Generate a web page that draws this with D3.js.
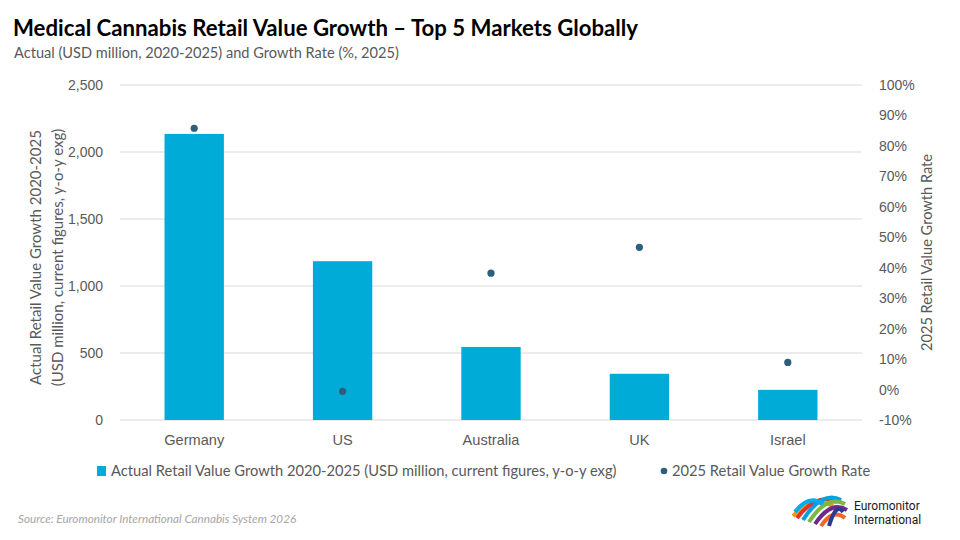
<!DOCTYPE html>
<html><head><meta charset="utf-8">
<script src="https://cdn.jsdelivr.net/npm/d3@7/dist/d3.min.js"></script>
<style>
body{margin:0;background:#fff;}
svg{display:block;font-family:Lato,"Open Sans",sans-serif;}
</style></head>
<body>
<svg id="chart" width="960" height="540"></svg>
<script>
const categories = ["Germany","US","Australia","UK","Israel"];
const actualValues = [2135, 1185, 545, 345, 225];
const growthRates = [85.8, -0.6, 38.2, 46.7, 8.9];
const leftTicks = [0, 500, 1000, 1500, 2000, 2500];
const rightTicks = [-10, 0, 10, 20, 30, 40, 50, 60, 70, 80, 90, 100];

const svg = d3.select("#chart");
const W = 960, H = 540;
const m = {left:120, right:98, top:85, bottom:120};
const x = d3.scaleBand().domain(categories).range([m.left, W - m.right]).paddingInner(0.6).paddingOuter(0.3);
const yL = d3.scaleLinear().domain([0, 2500]).range([H - m.bottom, m.top]);
const yR = d3.scaleLinear().domain([-10, 100]).range([H - m.bottom, m.top]);

const textCol = "#595959";
const barCol = "#00acd7";
const dotCol = "#2e5e7c";

// title
svg.append("text").attr("x", 13).attr("y", 36).attr("font-size", 22.2).attr("font-weight", "bold")
  .attr("fill", "#000")
  .text("Medical Cannabis Retail Value Growth – Top 5 Markets Globally");
svg.append("text").attr("x", 14).attr("y", 58).attr("font-size", 14.6).attr("fill", textCol)
  .text("Actual (USD million, 2020-2025) and Growth Rate (%, 2025)");

// gridlines
svg.append("g").selectAll("line").data(leftTicks).join("line")
  .attr("x1", m.left).attr("x2", W - m.right)
  .attr("y1", d => yL(d)).attr("y2", d => yL(d))
  .attr("stroke", "#d9d9d9").attr("stroke-width", 1);

// left axis
const gL = svg.append("g").attr("transform", `translate(${m.left - 14},0)`)
  .call(d3.axisLeft(yL).tickValues(leftTicks).tickFormat(d3.format(",")).tickSize(0));
gL.select(".domain").remove();
gL.selectAll("text").attr("font-size", 14).attr("fill", textCol).attr("font-family", null);

// right axis
const gR = svg.append("g").attr("transform", `translate(${W - m.right + 14},0)`)
  .call(d3.axisRight(yR).tickValues(rightTicks).tickFormat(d => d + "%").tickSize(0));
gR.select(".domain").remove();
gR.selectAll("text").attr("font-size", 14).attr("fill", textCol).attr("font-family", null);

// x axis labels
const gX = svg.append("g").attr("transform", `translate(0,${H - m.bottom + 12})`)
  .call(d3.axisBottom(x).tickSize(0));
gX.select(".domain").remove();
gX.selectAll("text").attr("font-size", 14.6).attr("fill", textCol).attr("font-family", null);

// bars
svg.append("g").selectAll("rect").data(categories).join("rect")
  .attr("x", d => x(d)).attr("width", x.bandwidth())
  .attr("y", (d,i) => yL(actualValues[i]))
  .attr("height", (d,i) => yL(0) - yL(actualValues[i]))
  .attr("fill", barCol);

// dots
svg.append("g").selectAll("circle").data(categories).join("circle")
  .attr("cx", d => x(d) + x.bandwidth()/2)
  .attr("cy", (d,i) => yR(growthRates[i]))
  .attr("r", 3.6).attr("fill", dotCol);

// axis titles
const yMid = (m.top + H - m.bottom)/2 + 5;
const lt = svg.append("text").attr("transform", `translate(41,${yMid}) rotate(-90)`)
  .attr("text-anchor","middle").attr("font-size", 15).attr("fill", textCol);
lt.append("tspan").attr("x",0).attr("dy",0).text("Actual Retail Value Growth 2020-2025");
lt.append("tspan").attr("x",0).attr("dy",22).text("(USD million, current figures, y-o-y exg)");
svg.append("text").attr("transform", `translate(932,${yMid - 5}) rotate(-90)`)
  .attr("text-anchor","middle").attr("font-size", 14.6).attr("fill", textCol)
  .text("2025 Retail Value Growth Rate");

// legend
const lg = svg.append("g").attr("font-size", 14.7).attr("fill", textCol);
lg.append("rect").attr("x", 97).attr("y", 466).attr("width", 9).attr("height", 10).attr("fill", barCol);
lg.append("text").attr("x", 111).attr("y", 476).text("Actual Retail Value Growth 2020-2025 (USD million, current figures, y-o-y exg)");
lg.append("circle").attr("cx", 664).attr("cy", 471).attr("r", 3.3).attr("fill", dotCol);
lg.append("text").attr("x", 672).attr("y", 476).text("2025 Retail Value Growth Rate");

// source
svg.append("text").attr("x", 18).attr("y", 523).attr("font-size", 11.7).attr("font-style","italic")
  .attr("fill", "#a6a6a6")
  .text("Source: Euromonitor International Cannabis System 2026");

// logo
const logo = svg.append("g").attr("transform","translate(793,500)");
const arcCols = ["#f7941d","#e4312b","#00a1de","#7ab648","#6d2a8a","#f26522","#00adef","#2b3990"];
const arcData = [
  {x0:0,y0:16,x1:40,y1:6,c:0},{x0:4,y0:18,x1:44,y1:2,c:1},{x0:10,y0:20,x1:48,y1:0,c:2},
  {x0:16,y0:22,x1:52,y1:4,c:3},{x0:22,y0:24,x1:54,y1:10,c:4},{x0:28,y0:26,x1:52,y1:18,c:5},
  {x0:2,y0:12,x1:30,y1:4,c:6},{x0:36,y0:26,x1:50,y1:12,c:7}
];
logo.selectAll("path").data(arcData).join("path")
  .attr("d", d => `M${d.x0},${d.y0} Q${(d.x0+d.x1)/2},${Math.min(d.y0,d.y1)-10} ${d.x1},${d.y1}`)
  .attr("fill","none").attr("stroke", d => arcCols[d.c]).attr("stroke-width", 4);
svg.append("text").attr("x", 854).attr("y", 510).attr("font-size", 12).attr("fill","#1a1a1a")
  .attr("font-family","Roboto, 'Open Sans', sans-serif").text("Euromonitor");
svg.append("text").attr("x", 854).attr("y", 524).attr("font-size", 12).attr("fill","#1a1a1a")
  .attr("font-family","Roboto, 'Open Sans', sans-serif").text("International");
</script>
</body></html>
